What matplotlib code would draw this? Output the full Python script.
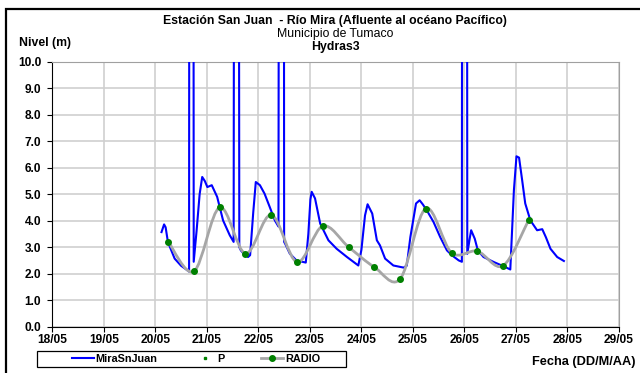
import matplotlib
matplotlib.use("Agg")
import matplotlib.pyplot as plt
from matplotlib.path import Path
from matplotlib.patches import PathPatch, Rectangle
from matplotlib.lines import Line2D

plt.rcParams['font.family'] = ['Liberation Sans', 'DejaVu Sans']

# MiraSnJuan level series (day of May, metres); 20.0 = spike above chart top
mira_day = [20.12, 20.17, 20.20, 20.245, 20.375, 20.50, 20.63, 20.655, 20.66, 20.74,
            20.745, 20.80, 20.86, 20.91, 20.96, 21.01, 21.095, 21.20, 21.315, 21.445,
            21.52, 21.53, 21.62, 21.63, 21.66, 21.73, 21.80, 21.84, 21.90, 21.95,
            22.03, 22.12, 22.22, 22.32, 22.39, 22.40, 22.495, 22.50, 22.52, 22.61,
            22.74, 22.92, 22.97, 23.01, 23.035, 23.10, 23.20, 23.36, 23.52, 23.72,
            23.94, 24.00, 24.07, 24.12, 24.21, 24.30, 24.36, 24.46, 24.62, 24.82,
            24.88, 24.95, 25.06, 25.13, 25.19, 25.27, 25.40, 25.53, 25.66, 25.76,
            25.89, 25.95, 25.955, 26.05, 26.055, 26.10, 26.13, 26.20, 26.26, 26.37,
            26.57, 26.76, 26.89, 26.96, 27.01, 27.06, 27.12, 27.18, 27.28, 27.41,
            27.51, 27.58, 27.67, 27.80, 27.93]
mira_val = [3.57, 3.86, 3.75, 3.19, 2.57, 2.30, 2.12, 2.08, 20.0, 20.0,
            2.45, 3.60, 5.00, 5.65, 5.50, 5.27, 5.34, 4.90, 4.01, 3.45,
            3.20, 20.0, 20.0, 3.00, 2.88, 2.72, 2.63, 2.70, 4.30, 5.46,
            5.34, 5.02, 4.52, 4.01, 3.78, 20.0, 20.0, 3.20, 3.13, 2.76,
            2.50, 2.42, 3.50, 4.80, 5.09, 4.84, 3.89, 3.26, 2.94, 2.63,
            2.31, 2.90, 4.20, 4.62, 4.27, 3.26, 3.07, 2.57, 2.31, 2.23,
            2.30, 3.38, 4.65, 4.77, 4.62, 4.39, 3.95, 3.38, 2.88, 2.69,
            2.50, 2.45, 20.0, 20.0, 2.75, 3.30, 3.64, 3.32, 2.88, 2.63,
            2.44, 2.28, 2.16, 5.15, 6.43, 6.38, 5.53, 4.65, 4.01, 3.64,
            3.68, 3.38, 2.94, 2.63, 2.48]

# RADIO / P readings
radio_day = [20.25, 20.75, 21.25, 21.75, 22.25, 22.75, 23.25, 23.75,
             24.25, 24.75, 25.25, 25.75, 26.25, 26.75, 27.25]
radio_val = [3.21, 2.09, 4.50, 2.76, 4.22, 2.44, 3.80, 3.01,
             2.25, 1.80, 4.46, 2.79, 2.85, 2.30, 4.04]

day_ticks = list(range(18, 30))
day_labels = ['%02d/05' % d for d in day_ticks]
y_ticks = list(range(0, 11))


def smooth_path(xs, ys):
    """Excel-like smoothed line as cubic bezier segments"""
    pts = list(zip(xs, ys))
    verts = [pts[0]]
    codes = [Path.MOVETO]
    n = len(pts)
    for i in range(n - 1):
        p0 = pts[max(i - 1, 0)]
        p1 = pts[i]
        p2 = pts[i + 1]
        p3 = pts[min(i + 2, n - 1)]
        c1 = (p1[0] + (p2[0] - p0[0]) / 6, p1[1] + (p2[1] - p0[1]) / 6)
        c2 = (p2[0] - (p3[0] - p1[0]) / 6, p2[1] - (p3[1] - p1[1]) / 6)
        verts += [c1, c2, p2]
        codes += [Path.CURVE4] * 3
    return Path(verts, codes)


fig = plt.figure(figsize=(6.4, 3.73), dpi=100)
ax = fig.add_axes([0.0817, 0.1241, 0.8855, 0.7105])

ax.set_xlim(18, 29)
ax.set_ylim(0, 10)
ax.set_xticks(day_ticks)
ax.set_xticklabels(day_labels)
ax.set_yticks(y_ticks)
ax.set_yticklabels(['%.1f' % v for v in y_ticks])
ax.grid(True, color='#cfcfcf', lw=1.2)
ax.set_axisbelow(True)
for lab in ax.get_xticklabels() + ax.get_yticklabels():
    lab.set_fontweight('bold')
    lab.set_fontsize(8.6)
ax.tick_params(axis='both', length=3.5, width=0.8, direction='out')
ax.tick_params(axis='y', pad=4.5)
ax.tick_params(axis='x', pad=2)
ax.spines['left'].set_color('black')
ax.spines['bottom'].set_color('black')
ax.spines['top'].set_color('#a0a0a0')
ax.spines['right'].set_color('#a0a0a0')

ax.plot(mira_day, mira_val, color='#0000ff', lw=1.5, zorder=3)
ax.add_patch(PathPatch(smooth_path(radio_day, radio_val), facecolor='none',
                       edgecolor='#a6a6a6', lw=2.0, zorder=4))
ax.plot(radio_day, radio_val, ls='none', marker='o', ms=4, color='#008000',
        mec='#008000', zorder=5)
ax.plot(radio_day, radio_val, ls='none', marker='s', ms=2, color='#008000', zorder=6)

# titles
cx = 335 / 640
fig.text(cx, 1 - 20.7 / 373, 'Estación San Juan  - Río Mira (Afluente al océano Pacífico)',
         ha='center', va='center', fontsize=8.8, fontweight='bold')
fig.text(cx, 1 - 34.3 / 373, 'Municipio de Tumaco', ha='center', va='center', fontsize=8.8)
fig.text(cx, 1 - 46.7 / 373, 'Hydras3', ha='center', va='center', fontsize=8.8, fontweight='bold')
fig.text(19 / 640, 1 - 42.7 / 373, 'Nivel (m)', ha='left', va='center', fontsize=8.8,
         fontweight='bold')
fig.text(635 / 640, 1 - 362 / 373, 'Fecha (DD/M/AA)', ha='right', va='center',
         fontsize=9.2, fontweight='bold')

# legend: box drawn separately, entries centred inside
fig.patches.append(Rectangle((36.7 / 640, 1 - 367 / 373), 309 / 640, 16 / 373,
                             transform=fig.transFigure, fill=False,
                             edgecolor='black', lw=0.9))
handles = [Line2D([], [], color='#0000ff', lw=1.5),
           Line2D([], [], ls='none', marker='s', ms=2, color='#008000'),
           Line2D([], [], color='#a6a6a6', lw=2.0, marker='o', ms=4,
                  mfc='#008000', mec='#008000')]
fig.legend(handles, ['MiraSnJuan', 'P', 'RADIO'], ncol=3, loc='center',
           bbox_to_anchor=(196 / 640, 1 - 359 / 373), frameon=False,
           handlelength=2.0, handletextpad=0.15, columnspacing=3.4,
           borderpad=0, prop={'size': 7.8, 'weight': 'bold'})

# outer frame (only left and top edges visible)
fig.patches.append(Rectangle((6 / 640, -0.5), 2, 1.5 - 9 / 373, transform=fig.transFigure,
                             fill=False, edgecolor='black', lw=1.6))

fig.savefig('out.png', dpi=100)
